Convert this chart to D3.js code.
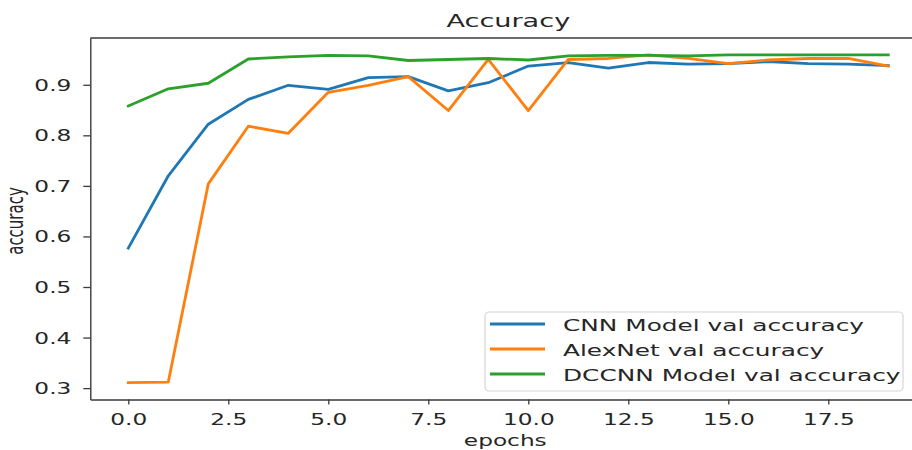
<!DOCTYPE html>
<html>
<head>
<meta charset="utf-8">
<script src="https://cdn.jsdelivr.net/npm/d3@7"></script>
<style>
    body { margin: 0; background: white; }
    svg { display: block; }
    text { font-family: "DejaVu Sans", sans-serif; fill: #262626; }
</style>
</head>
<body>
<svg width="912" height="450"></svg>
<script>
const epochs = d3.range(20)

const cnn_acc = [0.577, 0.720, 0.822, 0.871, 0.899, 0.891, 0.914, 0.916, 0.888, 0.904,
    0.937, 0.944, 0.933, 0.944, 0.941, 0.942, 0.946, 0.942, 0.941, 0.938]
const alexnet_acc = [0.311, 0.312, 0.704, 0.818, 0.804, 0.885, 0.899, 0.916, 0.849, 0.950,
    0.849, 0.950, 0.952, 0.959, 0.952, 0.942, 0.949, 0.952, 0.952, 0.937]
const dccnn_acc = [0.858, 0.892, 0.903, 0.951, 0.955, 0.958, 0.957, 0.948, 0.950, 0.952,
    0.949, 0.957, 0.958, 0.958, 0.957, 0.959, 0.959, 0.959, 0.959, 0.959]

const series_names = ["CNN Model val accuracy", "AlexNet val accuracy", "DCCNN Model val accuracy"]
const series_colors = ["#1f77b4", "#ff7f0e", "#2ca02c"]

const x_ticks = [0, 2.5, 5, 7.5, 10, 12.5, 15, 17.5]
const y_ticks = [0.3, 0.4, 0.5, 0.6, 0.7, 0.8, 0.9]

// the picture is stretched sideways, so every text gets the same squash
const stretch = 1.55
const line_width = 2.8
const spine_color = "#3a3a3a"

const plot_left = 90.3
const plot_right = 926.3
const plot_top = 38
const plot_bottom = 399.5

const x = d3.scaleLinear().domain([-0.95, 19.95]).range([plot_left, plot_right])
const y = d3.scaleLinear().domain([0.2775, 0.9925]).range([plot_bottom, plot_top])

const svg = d3.select("svg")

const all_series = [cnn_acc, alexnet_acc, dccnn_acc].map((values, i) => ({
    name: series_names[i],
    color: series_colors[i],
    points: epochs.map(e => [e, values[e]])
}))

// axes
const x_axis = svg.append("g")
    .attr("transform", `translate(0,${plot_bottom})`)
    .call(d3.axisBottom(x).tickValues(x_ticks).tickFormat(d3.format(".1f")).tickSize(5).tickSizeOuter(0).tickPadding(0))

const y_axis = svg.append("g")
    .attr("transform", `translate(${plot_left},0)`)
    .call(d3.axisLeft(y).tickValues(y_ticks).tickFormat(d3.format(".1f")).tickSize(7).tickSizeOuter(0))

svg.selectAll(".domain").attr("stroke", spine_color).attr("stroke-width", 1.4)
svg.selectAll(".tick line").attr("stroke", spine_color).attr("stroke-width", 1.3)

x_axis.selectAll(".tick text")
    .attr("x", null).attr("y", null).attr("dy", null)
    .attr("transform", `translate(0,25.5) scale(${stretch},1)`)
    .attr("font-size", 15)
    .attr("fill", "#262626")

y_axis.selectAll(".tick text")
    .attr("x", null).attr("dy", null)
    .attr("transform", `translate(-19,5.5) scale(${stretch},1)`)
    .attr("font-size", 15)
    .attr("fill", "#262626")

// top spine
svg.append("line")
    .attr("x1", plot_left).attr("x2", plot_right)
    .attr("y1", plot_top).attr("y2", plot_top)
    .attr("stroke", spine_color)
    .attr("stroke-width", 1.4)

// lines
const line = d3.line().x(d => x(d[0])).y(d => y(d[1]))

svg.append("g").selectAll("path")
    .data(all_series)
    .enter()
    .append("path")
    .attr("d", s => line(s.points))
    .attr("fill", "none")
    .attr("stroke", s => s.color)
    .attr("stroke-width", line_width)
    .attr("stroke-linejoin", "round")
    .attr("stroke-linecap", "square")

// title and labels
svg.append("text")
    .attr("transform", `translate(${(plot_left + plot_right) / 2},27) scale(${stretch},1)`)
    .attr("text-anchor", "middle")
    .attr("font-size", 17.5)
    .text("Accuracy")

svg.append("text")
    .attr("transform", `translate(${(plot_left + plot_right) / 2 - 3},446) scale(${stretch},1)`)
    .attr("text-anchor", "middle")
    .attr("font-size", 15)
    .text("epochs")

svg.append("text")
    .attr("transform", `translate(22.5,221) scale(${stretch},1) rotate(-90)`)
    .attr("text-anchor", "middle")
    .attr("font-size", 15)
    .text("accuracy")

// legend
const legend = svg.append("g").attr("transform", "translate(485,312)")

legend.append("rect")
    .attr("width", 418).attr("height", 79)
    .attr("rx", 4)
    .attr("fill", "white").attr("fill-opacity", 0.8)
    .attr("stroke", "#d6d6d6").attr("stroke-width", 1.2)

const legend_rows = legend.selectAll(".row")
    .data(all_series)
    .enter()
    .append("g")
    .attr("class", "row")
    .attr("transform", (s, i) => `translate(0,${12 + i * 25})`)

legend_rows.append("line")
    .attr("x1", 5).attr("x2", 60)
    .attr("stroke", s => s.color)
    .attr("stroke-width", line_width)

legend_rows.append("text")
    .attr("transform", `translate(78,7) scale(${stretch},1)`)
    .attr("font-size", 16)
    .text(s => s.name)
</script>
</body>
</html>
